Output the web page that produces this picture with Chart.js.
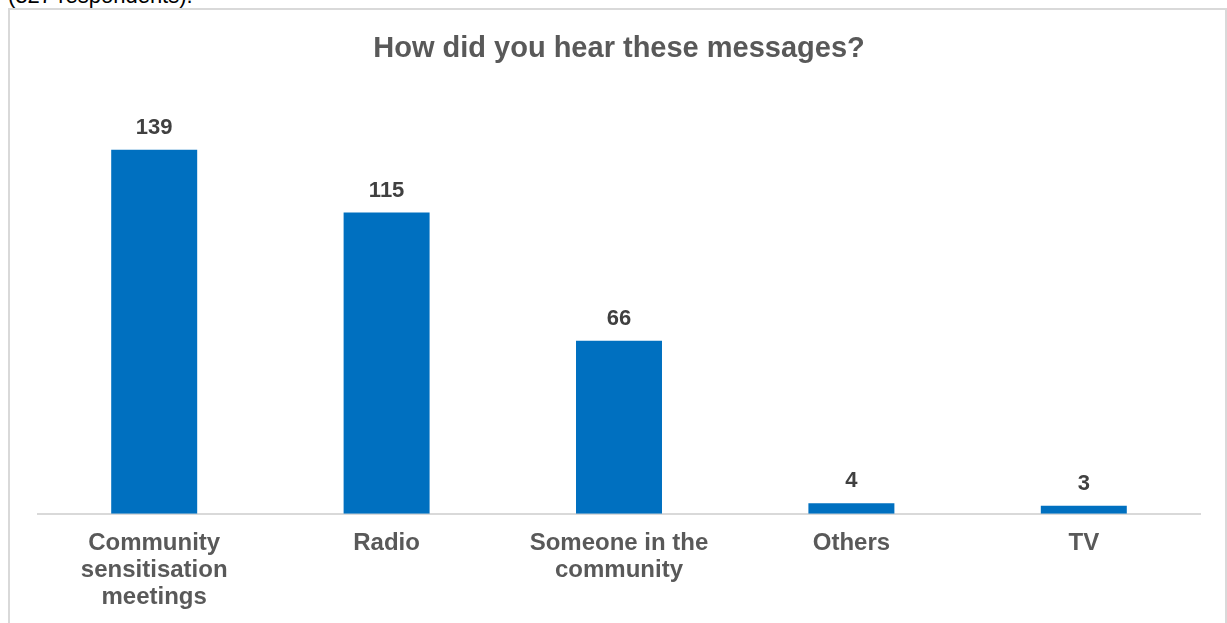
<!DOCTYPE html>
<html>
<head>
<meta charset="utf-8">
<script src="https://cdn.jsdelivr.net/npm/chart.js@4"></script>
<style>
  html, body { margin: 0; padding: 0; background: #fff; overflow: hidden; }
  #caption { position: absolute; left: 8px; top: -17px; font: 22px "Liberation Sans", Arial, sans-serif; color: #000; white-space: nowrap; }
  #box { position: absolute; left: 8px; top: 8px; width: 1215px; height: 630px; border: 2px solid #d9d9d9; background: #fff; }
  #chart { display: block; }
</style>
</head>
<body>
<div id="caption">(327 respondents).</div>
<div id="box"><canvas id="chart" width="1215" height="630"></canvas></div>
<script>
// chart data
const categories = [['Community', 'sensitisation', 'meetings'], 'Radio', ['Someone in the', 'community'], 'Others', 'TV'];
const counts = [139, 115, 66, 4, 3];
const titleText = 'How did you hear these messages?';

const FONT = '"Liberation Sans", Arial, sans-serif';

// draws the value above every bar, using the bar positions from the scales
const valueLabels = {
    id: 'valueLabels',
    afterDatasetsDraw(chart) {
        const ctx = chart.ctx;
        const meta = chart.getDatasetMeta(0);
        ctx.save();
        ctx.font = 'bold 22px ' + FONT;
        ctx.fillStyle = '#404040';
        ctx.textAlign = 'center';
        ctx.textBaseline = 'alphabetic';
        meta.data.forEach(function(bar, i) {
            ctx.fillText(String(counts[i]), bar.x, bar.y - 16);
        });
        ctx.restore();
    }
};

new Chart(document.getElementById('chart'), {
    type: 'bar',
    data: {
        labels: categories,
        datasets: [{
            data: counts,
            backgroundColor: '#0070c0',
            borderWidth: 0,
            categoryPercentage: 1,
            barPercentage: 0.37
        }]
    },
    options: {
        responsive: false,
        animation: false,
        layout: { padding: { left: 28, right: 25, top: 0, bottom: 13 } },
        plugins: {
            legend: { display: false },
            tooltip: { enabled: false },
            title: {
                display: true,
                text: titleText,
                color: '#595959',
                font: { family: FONT, size: 29, weight: 'bold', lineHeight: 1.2 },
                padding: { top: 22, bottom: 28 }
            }
        },
        scales: {
            y: { display: false, min: 0, max: 160 },
            x: {
                grid: { display: true, drawOnChartArea: false, drawTicks: false, color: 'transparent' },
                border: { display: true, color: '#d9d9d9', width: 2 },
                ticks: {
                    color: '#595959',
                    font: { family: FONT, size: 24, weight: 'bold', lineHeight: 1.13 },
                    padding: 16,
                    maxRotation: 0,
                    autoSkip: false
                }
            }
        }
    },
    plugins: [valueLabels]
});
</script>
</body>
</html>
